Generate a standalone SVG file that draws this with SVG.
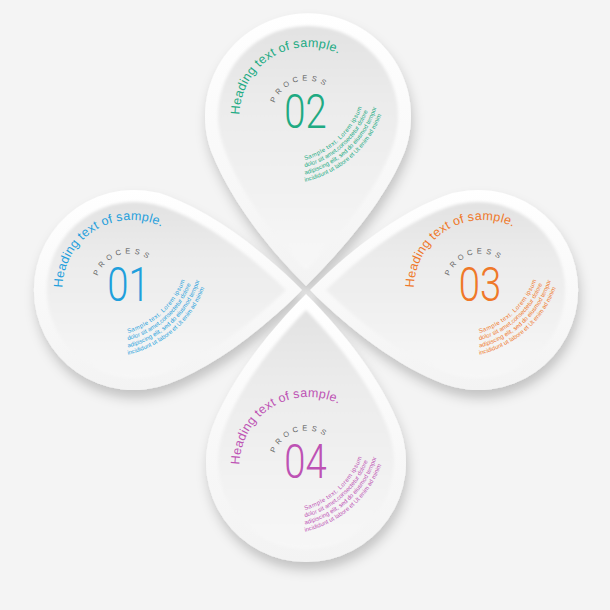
<svg xmlns="http://www.w3.org/2000/svg" xmlns:xlink="http://www.w3.org/1999/xlink" width="610" height="610" viewBox="0 0 610 610">
<defs>
<style>
.body{fill:url(#gBody)}
.face{fill:url(#gFace);filter:url(#soft)}
.hd{font-family:"Liberation Sans",Arial,sans-serif;font-size:12.5px;letter-spacing:0.3px}
.pr{font-family:"Liberation Sans",Arial,sans-serif;font-size:7.5px;letter-spacing:3.9px;fill:#666666}
.num{font-family:Roboto,"Liberation Sans",sans-serif;font-weight:300;font-size:49px;text-anchor:middle}
.sm{font-family:"Liberation Sans",Arial,sans-serif;font-size:6px}
.sm1{letter-spacing:0.45px}
</style>
<linearGradient id="gBody" x1="0" y1="0" x2="0" y2="1">
<stop offset="0" stop-color="#ffffff"/>
<stop offset="1" stop-color="#f3f3f3"/>
</linearGradient>
<linearGradient id="gFace" x1="0" y1="0" x2="0" y2="1">
<stop offset="0" stop-color="#e2e2e2"/>
<stop offset="0.3" stop-color="#ebebeb"/>
<stop offset="1" stop-color="#f7f7f7"/>
</linearGradient>
<filter id="sh" x="-25%" y="-25%" width="150%" height="160%">
<feGaussianBlur in="SourceAlpha" stdDeviation="6"/>
<feOffset dx="2" dy="8" result="b"/>
<feFlood flood-color="#000" flood-opacity="0.2"/>
<feComposite in2="b" operator="in"/>
<feMerge><feMergeNode/><feMergeNode in="SourceGraphic"/></feMerge>
</filter>
<filter id="soft" x="-10%" y="-10%" width="120%" height="120%">
<feGaussianBlur stdDeviation="1.8"/>
</filter>
<path id="hp" d="M -66 -13.2 A 69 69 0 0 1 62.8 -46.5"/>
<path id="pp" d="M -30.7 -24.9 A 33.5 33.5 0 0 1 26.7 -35.5"/>
<path id="s1" d="M -0.5 32 A 87 87 0 0 0 56.75 -81.25"/>
<path id="s2" d="M -0.5 39.25 A 94 94 0 0 0 63.3 -83.65"/>
<path id="s3" d="M -0.5 46.5 A 101 101 0 0 0 69.9 -86.05"/>
<path id="s4" d="M -0.5 53.7 A 108 108 0 0 0 76.5 -88.4"/>
</defs>
<rect width="610" height="610" fill="#f4f4f4"/>

<g id="petal-02">
<path class="body" filter="url(#sh)" d="M 306 286 C 265 245, 229 197, 211 151 A 103 103 0 1 1 405 151 C 387 197, 347 245, 306 286 Z"/>
<path class="face" d="M 306 270 C 270 233, 238.5 189.6, 223.4 146.6 A 90 90 0 1 1 392.6 146.6 C 377.5 189.6, 342 233, 306 270 Z"/>
<g transform="translate(305.5 128)" fill="#20aa82">
<text class="hd"><textPath href="#hp">Heading text of sample.</textPath></text>
<text class="pr"><textPath href="#pp">PROCESS</textPath></text>
<text class="num" transform="scale(0.78 1)">02</text>
<text class="sm sm1"><textPath href="#s1">Sample text. Lorem ipsum</textPath></text>
<text class="sm"><textPath href="#s2">dolor sit amet,consectetur dolore</textPath></text>
<text class="sm"><textPath href="#s3">adipiscing elit, sed do eiusmod tempor</textPath></text>
<text class="sm"><textPath href="#s4">incididunt ut labore et Ut enim ad minim</textPath></text>
</g>
</g>

<g id="petal-01">
<path class="body" filter="url(#sh)" d="M 302 290 C 261 331, 213 367, 168 384 A 100 100 0 1 1 168 196 C 213 213, 261 249, 302 290 Z"/>
<path class="face" d="M 286 290 C 249 326, 206 358, 164 373 A 88 88 0 1 1 164 207 C 206 222, 249 254, 286 290 Z"/>
<g transform="translate(128.5 301)" fill="#1f9fdc">
<text class="hd"><textPath href="#hp">Heading text of sample.</textPath></text>
<text class="pr"><textPath href="#pp">PROCESS</textPath></text>
<text class="num" transform="scale(0.78 1)">01</text>
<text class="sm sm1"><textPath href="#s1">Sample text. Lorem ipsum</textPath></text>
<text class="sm"><textPath href="#s2">dolor sit amet,consectetur dolore</textPath></text>
<text class="sm"><textPath href="#s3">adipiscing elit, sed do eiusmod tempor</textPath></text>
<text class="sm"><textPath href="#s4">incididunt ut labore et Ut enim ad minim</textPath></text>
</g>
</g>

<g id="petal-03">
<path class="body" filter="url(#sh)" d="M 310 290 C 351 249, 399 213, 444 196 A 100 100 0 1 1 444 384 C 399 367, 351 331, 310 290 Z"/>
<path class="face" d="M 326 290 C 363 254, 406 222, 448 207 A 88 88 0 1 1 448 373 C 406 358, 363 326, 326 290 Z"/>
<g transform="translate(480 301)" fill="#ef7829">
<text class="hd"><textPath href="#hp">Heading text of sample.</textPath></text>
<text class="pr"><textPath href="#pp">PROCESS</textPath></text>
<text class="num" transform="scale(0.78 1)">03</text>
<text class="sm sm1"><textPath href="#s1">Sample text. Lorem ipsum</textPath></text>
<text class="sm"><textPath href="#s2">dolor sit amet,consectetur dolore</textPath></text>
<text class="sm"><textPath href="#s3">adipiscing elit, sed do eiusmod tempor</textPath></text>
<text class="sm"><textPath href="#s4">incididunt ut labore et Ut enim ad minim</textPath></text>
</g>
</g>

<g id="petal-04">
<path class="body" filter="url(#sh)" d="M 306 294 C 347 335, 383 383, 400 428 A 100 100 0 1 1 212 428 C 229 383, 265 335, 306 294 Z"/>
<path class="face" d="M 306 310 C 342 347, 374 390, 389 432 A 88 88 0 1 1 223 432 C 238 390, 270 347, 306 310 Z"/>
<g transform="translate(305.5 478)" fill="#bd52b4">
<text class="hd"><textPath href="#hp">Heading text of sample.</textPath></text>
<text class="pr"><textPath href="#pp">PROCESS</textPath></text>
<text class="num" transform="scale(0.78 1)">04</text>
<text class="sm sm1"><textPath href="#s1">Sample text. Lorem ipsum</textPath></text>
<text class="sm"><textPath href="#s2">dolor sit amet,consectetur dolore</textPath></text>
<text class="sm"><textPath href="#s3">adipiscing elit, sed do eiusmod tempor</textPath></text>
<text class="sm"><textPath href="#s4">incididunt ut labore et Ut enim ad minim</textPath></text>
</g>
</g>

<g id="connectors"></g>
</svg>
